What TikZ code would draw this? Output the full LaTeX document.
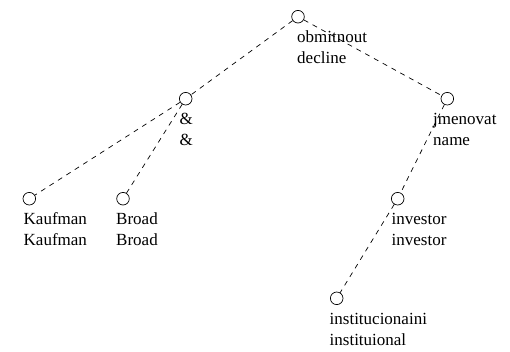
\documentclass[tikz,border=0pt]{standalone}
\usepackage{fontspec}
\setmainfont{Liberation Serif}
\begin{document}
\begin{tikzpicture}[x=1pt,y=-1pt,
  vertex/.style={circle,draw,line width=0.7pt,minimum size=12.6pt,inner sep=0pt,fill=white},
  edge/.style={draw,line width=0.7pt,dash pattern=on 5pt off 5pt},
  lbl/.style={anchor=north west,inner sep=0pt,align=left,font=\fontsize{17}{21}\selectfont}]
\useasboundingbox (0,0) rectangle (510,351);
\node[vertex] (root) at (298,16.7) {};
\node[vertex] (amp) at (185.7,98.7) {};
\node[vertex] (jmen) at (447.3,98.7) {};
\node[vertex] (kauf) at (29.3,198.7) {};
\node[vertex] (broad) at (123,198.7) {};
\node[vertex] (inv) at (397.7,198.7) {};
\node[vertex] (inst) at (336.7,298.3) {};
\path[edge] (root) -- (amp);
\path[edge] (root) -- (jmen);
\path[edge] (amp) -- (kauf);
\path[edge] (amp) -- (broad);
\path[edge] (jmen) -- (inv);
\path[edge] (inv) -- (inst);
\newcommand{\fl}{\rule{0pt}{12pt}}
\node[lbl] (lroot) at (297,30.7) {\fl obmitnout\\decline};
\node[lbl] (lamp) at (179.3,112.7) {\fl\&\\\&};
\node[lbl] (ljmen) at (433,112.7) {\fl jmenovat\\name};
\node[lbl] (lkauf) at (23.5,212.7) {\fl Kaufman\\Kaufman};
\node[lbl] (lbroad) at (116,212.7) {\fl Broad\\Broad};
\node[lbl] (linv) at (391.5,212.7) {\fl investor\\investor};
\node[lbl] (linst) at (329.5,312.3) {\fl institucionaini\\instituional};
\end{tikzpicture}
\end{document}
